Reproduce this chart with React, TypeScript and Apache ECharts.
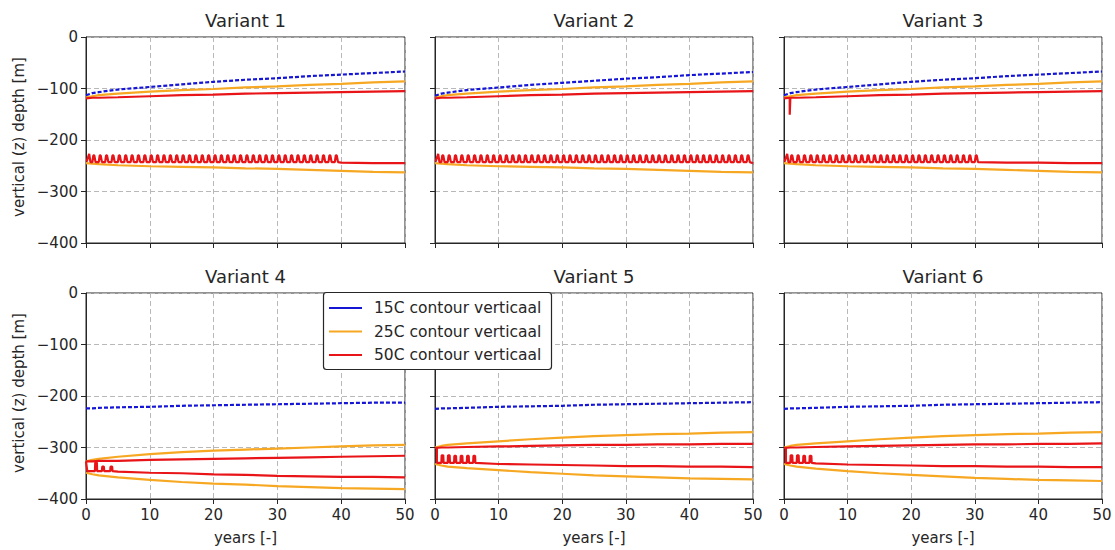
import React, { useEffect, useRef } from "react";
import * as echarts from "echarts";

// ---- data ----
const years = [0, 1, 2, 5, 10, 15, 20, 25, 30, 35, 40, 45, 50];
const titles = ["Variant 1", "Variant 2", "Variant 3", "Variant 4", "Variant 5", "Variant 6"];
const legendNames = ["15C contour verticaal", "25C contour verticaal", "50C contour verticaal"];
const xTicks = [0, 10, 20, 30, 40, 50];
const yTicks = [0, -100, -200, -300, -400];

// top row (variants 1-3)
const blue1 = [-113, -109, -107, -102, -97, -92, -87, -83, -80, -76, -73, -70, -67];
const blue2 = [-114, -110, -108, -103, -98, -93, -89, -85, -81, -78, -74, -71, -68];
const blue3 = [-113, -109, -107, -102, -97, -92, -87, -83, -80, -76, -73, -70, -67];
const orangeUpTop = [-117, -115, -113, -110, -106, -103, -101, -98, -96, -93, -91, -88, -86];
const redUpTop = [-119, -118, -118, -117, -115, -113, -112, -110, -109, -108, -107, -106, -105];
const orangeLowTop = [-245, -246, -247, -249, -251, -252, -253, -255, -256, -258, -260, -262, -263];
const redLowTop = [-242, -243, -243, -243, -243, -243, -243, -244, -244, -244, -244, -245, -245];
const topPeak = -230;
const topBase = -243;
const leadTop = [[0.1, -242], [0.5, -227], [0.7, -243]];
const teethYears1 = [1, 2, 3, 4, 5, 6, 7, 8, 9, 10, 11, 12, 13, 14, 15, 16, 17, 18, 19, 20, 21, 22, 23, 24, 25, 26, 27, 28, 29, 30, 31, 32, 33, 34, 35, 36, 37, 38, 39];
const teethYears2 = [1, 2, 3, 4, 5, 6, 7, 8, 9, 10, 11, 12, 13, 14, 15, 16, 17, 18, 19, 20, 21, 22, 23, 24, 25, 26, 27, 28, 29, 30, 31, 32, 33, 34, 35, 36, 37, 38, 39, 40, 41, 42, 43, 44, 45, 46, 47, 48, 49];
const teethYears3 = [1, 2, 3, 4, 5, 6, 7, 8, 9, 10, 11, 12, 13, 14, 15, 16, 17, 18, 19, 20, 21, 22, 23, 24, 25, 26, 27, 28, 29, 30];
const spike3 = [[0.9, -118], [0.9, -151], [1.0, -118]];

// bottom row (variants 4-6)
const blue4 = [-224, -224, -223, -222, -221, -219, -218, -217, -216, -215, -214, -213, -213];
const orangeUp4 = [-327, -324, -322, -318, -313, -309, -306, -304, -302, -300, -298, -296, -295];
const redUp4 = [-327, -327, -326, -326, -324, -323, -322, -321, -320, -319, -318, -317, -316];
const redLow4 = [-346, -346, -346, -347, -349, -350, -352, -353, -355, -356, -357, -357, -358];
const orangeLow4 = [-349, -352, -354, -358, -363, -367, -370, -372, -375, -377, -379, -380, -381];
const lead4 = [[0, -327], [0.2, -346]];
const teeth4 = [[1.4, -329], [2.5, -337], [3.8, -337]];

const blue5 = [-225, -224, -224, -223, -221, -220, -219, -217, -216, -215, -214, -213, -212];
const orangeUp5 = [-300, -297, -295, -292, -288, -284, -281, -278, -276, -274, -273, -271, -270];
const redUp5 = [-301, -300, -300, -299, -298, -297, -296, -295, -295, -294, -294, -293, -293];
const redLow5 = [-330, -330, -330, -331, -332, -333, -334, -335, -336, -336, -337, -337, -338];
const orangeLow5 = [-332, -335, -337, -340, -344, -348, -351, -354, -356, -358, -360, -361, -362];
const lead5 = [[0.3, -301], [0.3, -330]];
const teeth5 = [[1, -315], [2, -315], [3, -316], [4, -316], [5, -316], [6, -316]];

const blue6 = [-225, -224, -224, -223, -221, -220, -219, -217, -216, -215, -214, -213, -212];
const orangeUp6 = [-300, -297, -295, -292, -288, -284, -281, -278, -276, -274, -273, -271, -270];
const redUp6 = [-301, -300, -300, -299, -298, -297, -296, -295, -294, -294, -293, -293, -292];
const redLow6 = [-330, -330, -330, -331, -333, -334, -335, -336, -336, -337, -337, -338, -338];
const orangeLow6 = [-332, -335, -337, -341, -346, -350, -353, -356, -359, -361, -363, -364, -365];
const lead6 = [[0.3, -301], [0.3, -330]];
const teeth6 = [[1, -315], [2, -315], [3, -316], [4, -316]];

// ---- styling ----
const FONT = "DejaVu Sans";
const TXT = "#262626";
const BLUE = "#1515d6";
const ORANGE = "#f7a823";
const RED = "#e81418";
const colX = [86, 435, 784];
const colW = [319, 318, 318];
const rowY = [37, 293];
const PH = 206;

const pts = (ys: number[]) => years.map((x, i) => [x, ys[i]]);

function teethPath(lead: number[][], teeth: number[][], base: number, curve: number[], rise: number, top: number, w: number) {
  const out: number[][] = lead.map((p) => [p[0], p[1]]);
  teeth.forEach(([t, peak]) => {
    out.push([t, base], [t + rise, peak], [t + top, peak], [t + w, base]);
  });
  const last = teeth.length ? teeth[teeth.length - 1][0] + w : 0;
  years.forEach((x, i) => {
    if (x > last) out.push([x, curve[i]]);
  });
  return out;
}

export default function App() {
  const ref = useRef<HTMLDivElement>(null);
  useEffect(() => {
    if (!ref.current) return;
    const chart = echarts.init(ref.current, undefined, { renderer: "svg" });

    const grids: any[] = [];
    const xAxes: any[] = [];
    const yAxes: any[] = [];
    for (let i = 0; i < 6; i++) {
      const c = i % 3;
      const r = Math.floor(i / 3);
      grids.push({
        left: colX[c], top: rowY[r], width: colW[c], height: PH,
        show: true, borderColor: TXT, borderWidth: 1, backgroundColor: "transparent",
      });
      xAxes.push({
        gridIndex: i, type: "value", min: xTicks[0], max: xTicks[xTicks.length - 1], interval: 10,
        axisLine: { show: true, onZero: false, lineStyle: { color: TXT, width: 1 } },
        axisTick: { show: true, inside: false, length: 5, lineStyle: { color: TXT, width: 1 } },
        axisLabel: { show: r === 1, fontSize: 15, color: TXT, fontFamily: FONT, margin: 8 },
        splitLine: { show: true, lineStyle: { color: "#b8b8b8", type: [5, 3], width: 1 } },
      });
      yAxes.push({
        gridIndex: i, type: "value", min: yTicks[yTicks.length - 1], max: yTicks[0], interval: 100,
        axisLine: { show: true, onZero: false, lineStyle: { color: TXT, width: 1 } },
        axisTick: { show: true, inside: false, length: 5, lineStyle: { color: TXT, width: 1 } },
        axisLabel: {
          show: c === 0, fontSize: 15, color: TXT, fontFamily: FONT, margin: 8,
          formatter: (v: number) => String(v).replace("-", "\u2212"),
        },
        splitLine: { show: true, lineStyle: { color: "#b8b8b8", type: [5, 3], width: 1 } },
      });
    }

    const line = (i: number, data: number[][], color: string, dashed = false, z = 2) => ({
      type: "line", xAxisIndex: i, yAxisIndex: i, data, showSymbol: false, symbol: "none",
      z, silent: true,
      lineStyle: { color, width: 2.2, type: dashed ? [4, 2] : "solid" },
    });

    const blues = [blue1, blue2, blue3];
    const topTeeth = [teethYears1, teethYears2, teethYears3];
    const series: any[] = [];
    for (let i = 0; i < 3; i++) {
      series.push(line(i, pts(orangeUpTop), ORANGE));
      series.push(line(i, pts(orangeLowTop), ORANGE));
      series.push(line(i, pts(redUpTop), RED, false, 3));
      series.push(line(i, teethPath(leadTop, topTeeth[i].map((t) => [t, topPeak]), topBase, redLowTop, 0.15, 0.3, 0.5), RED, false, 3));
      series.push(line(i, pts(blues[i]), BLUE, true, 4));
    }
    series.push(line(2, spike3, RED, false, 3));

    const bottom = [
      { b: blue4, ou: orangeUp4, ru: redUp4, rl: redLow4, ol: orangeLow4, lead: lead4, teeth: teeth4, base: -346 },
      { b: blue5, ou: orangeUp5, ru: redUp5, rl: redLow5, ol: orangeLow5, lead: lead5, teeth: teeth5, base: -330 },
      { b: blue6, ou: orangeUp6, ru: redUp6, rl: redLow6, ol: orangeLow6, lead: lead6, teeth: teeth6, base: -330 },
    ];
    bottom.forEach((d, k) => {
      const i = k + 3;
      series.push(line(i, pts(d.ou), ORANGE));
      series.push(line(i, pts(d.ol), ORANGE));
      series.push(line(i, pts(d.ru), RED, false, 3));
      series.push(line(i, teethPath(d.lead, d.teeth, d.base, d.rl, 0.05, 0.3, 0.35), RED, false, 3));
      series.push(line(i, pts(d.b), BLUE, true, 4));
    });

    const graphics: any[] = [];
    for (let i = 0; i < 6; i++) {
      const c = i % 3;
      const r = Math.floor(i / 3);
      graphics.push({
        type: "text", x: colX[c] + colW[c] / 2, y: rowY[r] - 17,
        style: { text: titles[i], fontSize: 18, fontFamily: FONT, fill: TXT, align: "center", verticalAlign: "middle" },
      });
      if (r === 1) {
        graphics.push({
          type: "text", x: colX[c] + colW[c] / 2, y: 538,
          style: { text: "years [-]", fontSize: 15, fontFamily: FONT, fill: TXT, align: "center", verticalAlign: "middle" },
        });
      }
    }
    [0, 1].forEach((r) => {
      graphics.push({
        type: "text", x: 19, y: rowY[r] + PH / 2 - 3, rotation: Math.PI / 2,
        style: { text: "vertical (z) depth [m]", fontSize: 15, fontFamily: FONT, fill: TXT, align: "center", verticalAlign: "middle" },
      });
    });
    // legend
    graphics.push({
      type: "rect", z: 100, zlevel: 0,
      shape: { x: 323.5, y: 292.5, width: 228, height: 77, r: 3 },
      style: { fill: "#ffffff", stroke: TXT, lineWidth: 1.2 },
    });
    const lcols = [BLUE, ORANGE, RED];
    lcols.forEach((col, k) => {
      const y = 308 + k * 23.5;
      graphics.push({ type: "line", z: 101, shape: { x1: 329, y1: y, x2: 362, y2: y }, style: { stroke: col, lineWidth: 2.2 } });
      graphics.push({
        type: "text", x: 374, y, z: 101,
        style: { text: legendNames[k], fontSize: 15.5, fontFamily: FONT, fill: TXT, align: "left", verticalAlign: "middle" },
      });
    });

    chart.setOption({
      animation: false,
      backgroundColor: "#ffffff",
      grid: grids,
      xAxis: xAxes,
      yAxis: yAxes,
      series,
      graphic: graphics,
    });
    return () => chart.dispose();
  }, []);
  return <div ref={ref} style={{ position: "absolute", left: 0, top: 0, width: 1115, height: 550 }} />;
}
